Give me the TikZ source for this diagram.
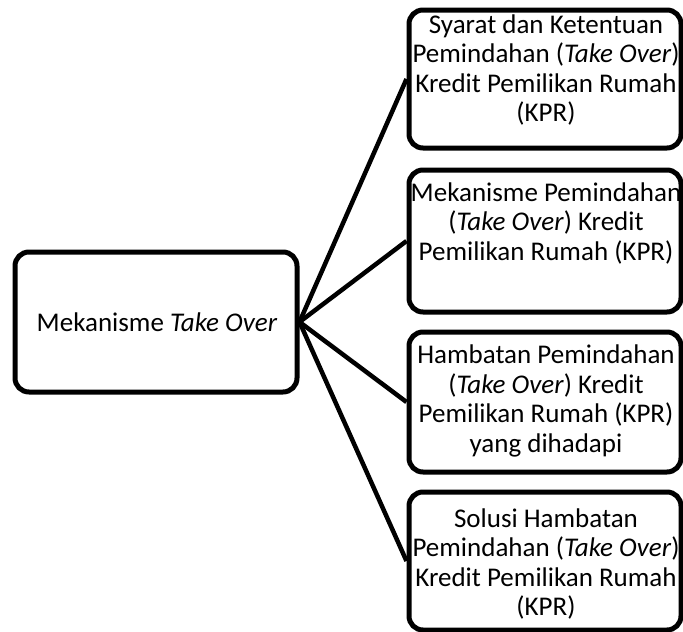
\documentclass[tikz,border=0pt]{standalone}
\usepackage{fontspec}
\setmainfont{Carlito}
\begin{document}
\begin{tikzpicture}[x=1pt,y=-1pt,
  box/.style={draw=black,line width=5pt,rounded corners=14pt,fill=white,inner sep=0pt},
  txt/.style={align=center,font=\fontsize{27}{29.5}\selectfont,inner sep=0pt},
  conn/.style={line width=4.5pt}]
\useasboundingbox (0,0) rectangle (683,632);
% boxes
\node[box,minimum width=282pt,minimum height=140pt] (root) at (156,322) {};
\node[box,minimum width=272pt,minimum height=138pt] (b1) at (545,79) {};
\node[box,minimum width=272pt,minimum height=142pt] (b2) at (545,241) {};
\node[box,minimum width=272pt,minimum height=140pt] (b3) at (545,402) {};
\node[box,minimum width=272pt,minimum height=138pt] (b4) at (545,561) {};
% connectors
\draw[conn] (root.east) -- (b1.west);
\draw[conn] (root.east) -- (b2.west);
\draw[conn] (root.east) -- (b3.west);
\draw[conn] (root.east) -- (b4.west);
% texts
\node[txt] (t0) at (157,322) {Mekanisme \textit{Take Over}};
\node[txt] (t1) at (546,70) {Syarat dan Ketentuan\\Pemindahan (\textit{Take Over})\\Kredit Pemilikan Rumah\\(KPR)};
\node[txt] (t2) at (546,223) {Mekanisme Pemindahan\\(\textit{Take Over}) Kredit\\Pemilikan Rumah (KPR)};
\node[txt] (t3) at (546,401) {Hambatan Pemindahan\\(\textit{Take Over}) Kredit\\Pemilikan Rumah (KPR)\\yang dihadapi};
\node[txt] (t4) at (546,564) {Solusi Hambatan\\Pemindahan (\textit{Take Over})\\Kredit Pemilikan Rumah\\(KPR)};
\end{tikzpicture}
\end{document}
